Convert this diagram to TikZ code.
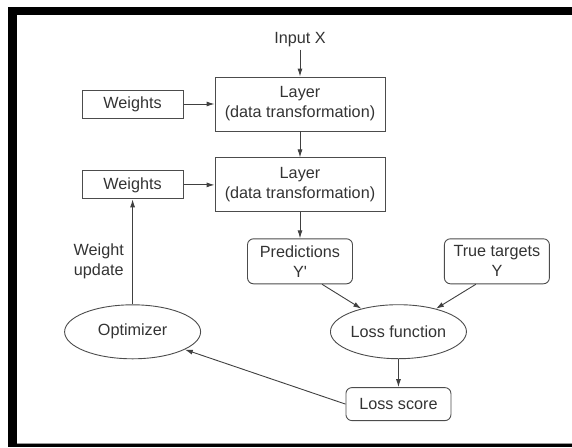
\documentclass[tikz,border=0pt]{standalone}
\usepackage{fontspec}
\setmainfont{Liberation Sans}
\usetikzlibrary{shapes.geometric, arrows.meta, positioning, calc}

\begin{document}
\begin{tikzpicture}[
  x=1pt, y=-1pt,
  node distance=26pt and 31pt,
  every node/.style={font=\fontsize{16.2}{20}\selectfont, text=black!80},
  layer/.style={rectangle, draw=black!70, line width=0.9pt, minimum width=170pt, minimum height=54pt, align=center, inner sep=2pt},
  wbox/.style={rectangle, draw=black!70, line width=0.9pt, minimum width=101pt, minimum height=28pt, inner sep=2pt},
  rbox/.style={rectangle, draw=black!70, line width=0.9pt, rounded corners=6pt, minimum width=105pt, minimum height=45pt, align=center, inner sep=2pt},
  oval/.style={ellipse, draw=black!70, line width=0.9pt, minimum width=136pt, minimum height=54pt, inner sep=0pt},
  arrow/.style={-{Latex[length=8pt, width=5pt]}, draw=black!75, line width=0.9pt}
]
  \useasboundingbox (0,0) rectangle (572,447);
  % frame
  \fill (8,7) rectangle (572,15);
  \fill (8,7) rectangle (17,447);
  \fill (8,444) rectangle (572,447);
  \draw[black!40, line width=0.8pt] (17,443) -- (572,443);

  \node[layer] (lay1) at (300,104) {Layer\\(data transformation)};
  \node[above=27pt of lay1, inner sep=2pt] (inp) {Input X};
  \node[wbox, left=of lay1] (wt1) {Weights};
  \node[layer, below=of lay1] (lay2) {Layer\\(data transformation)};
  \node[wbox, left=of lay2] (wt2) {Weights};
  \node[rbox, below=of lay2] (pred) {Predictions\\Y\textquotesingle};
  \node[rbox, right=91pt of pred] (true) {True targets\\Y};
  \coordinate (mid) at ($(pred.south)!.5!(true.south)$);
  \node[oval, below=20pt of mid] (loss) {Loss function};
  \node[rbox, minimum height=33pt, below=28pt of loss] (score) {Loss score};
  \node[oval, below=105pt of wt2] (opt) {Optimizer};

  \draw[arrow] (inp) -- (lay1);
  \draw[arrow] (wt1) -- (lay1);
  \draw[arrow] (lay1) -- (lay2);
  \draw[arrow] (wt2) -- (lay2);
  \draw[arrow] (lay2) -- (pred);
  \draw[arrow] ([xshift=22pt]pred.south) -- (loss);
  \draw[arrow] ([xshift=-21pt]true.south) -- (loss);
  \draw[arrow] (loss) -- (score);
  \draw[arrow] (score.west) -- (opt);
  \draw[arrow] (opt) -- node[left=5pt, pos=0.41, align=center] {Weight\\update} (wt2);
\end{tikzpicture}
\end{document}
